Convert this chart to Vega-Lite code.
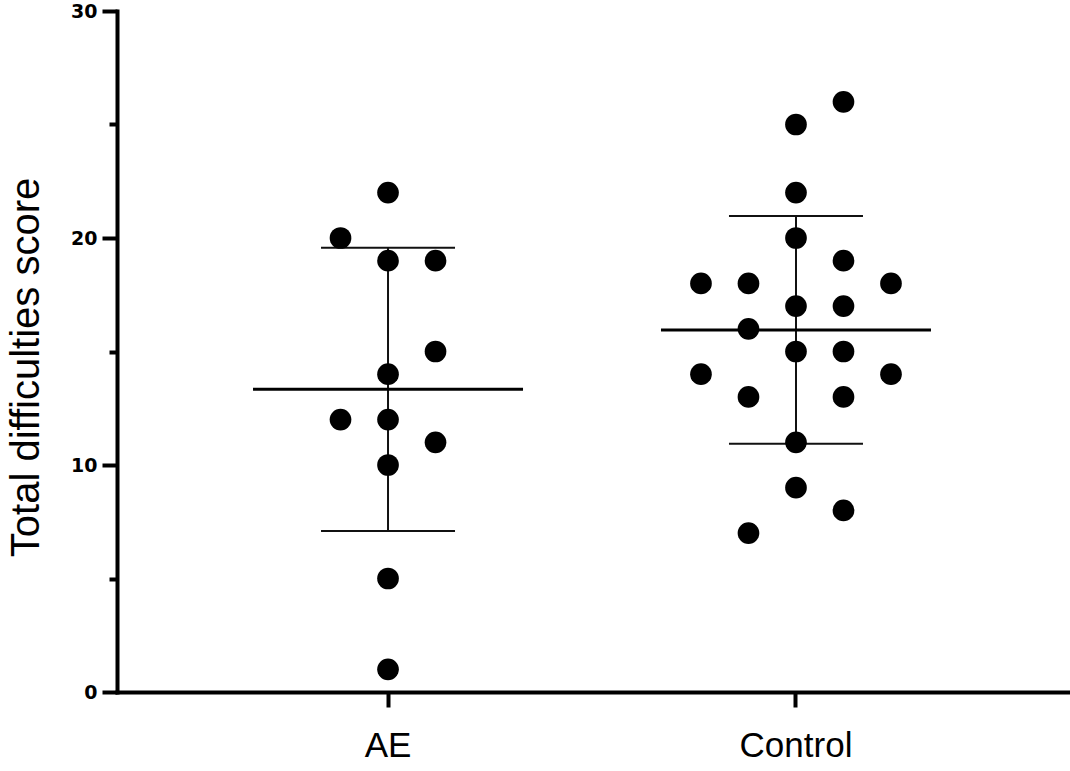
{
  "$schema": "https://vega.github.io/schema/vega-lite/v6.json",
  "width": 953,
  "height": 681,
  "autosize": {"type": "none"},
  "padding": {"left": 117, "top": 11, "right": 0, "bottom": 79},
  "background": "white",
  "config": {
    "view": {"stroke": null},
    "font": "Liberation Sans",
    "axisY": {
      "labelFont": "DejaVu Sans",
      "labelFontSize": 19,
      "labelFontWeight": "bold",
      "labelColor": "black",
      "labelPadding": 5,
      "tickWidth": 4,
      "tickColor": "black",
      "domainWidth": 4,
      "domainColor": "black",
      "domainCap": "square",
      "grid": false,
      "titleFont": "Liberation Sans",
      "titleFontSize": 40,
      "titleFontWeight": "normal",
      "titleColor": "black",
      "titlePadding": 24,
      "titleY": 356
    },
    "axisX": {
      "labelAngle": 0,
      "labelFont": "Liberation Sans",
      "labelFontSize": 35,
      "labelColor": "black",
      "labelPadding": 21,
      "tickSize": 15,
      "tickWidth": 4,
      "tickColor": "black",
      "domainWidth": 4,
      "domainColor": "black",
      "domainCap": "square",
      "grid": false
    }
  },
  "data": {
    "values": [
      {"group": "AE", "score": 22, "column": 0},
      {"group": "AE", "score": 20, "column": -1},
      {"group": "AE", "score": 19, "column": 0},
      {"group": "AE", "score": 19, "column": 1},
      {"group": "AE", "score": 15, "column": 1},
      {"group": "AE", "score": 14, "column": 0},
      {"group": "AE", "score": 12, "column": -1},
      {"group": "AE", "score": 12, "column": 0},
      {"group": "AE", "score": 11, "column": 1},
      {"group": "AE", "score": 10, "column": 0},
      {"group": "AE", "score": 5, "column": 0},
      {"group": "AE", "score": 1, "column": 0},
      {"group": "Control", "score": 26, "column": 1},
      {"group": "Control", "score": 25, "column": 0},
      {"group": "Control", "score": 22, "column": 0},
      {"group": "Control", "score": 20, "column": 0},
      {"group": "Control", "score": 19, "column": 1},
      {"group": "Control", "score": 18, "column": -2},
      {"group": "Control", "score": 18, "column": -1},
      {"group": "Control", "score": 18, "column": 2},
      {"group": "Control", "score": 17, "column": 0},
      {"group": "Control", "score": 17, "column": 1},
      {"group": "Control", "score": 16, "column": -1},
      {"group": "Control", "score": 15, "column": 0},
      {"group": "Control", "score": 15, "column": 1},
      {"group": "Control", "score": 14, "column": -2},
      {"group": "Control", "score": 14, "column": 2},
      {"group": "Control", "score": 13, "column": -1},
      {"group": "Control", "score": 13, "column": 1},
      {"group": "Control", "score": 11, "column": 0},
      {"group": "Control", "score": 9, "column": 0},
      {"group": "Control", "score": 8, "column": 1},
      {"group": "Control", "score": 7, "column": -1}
    ]
  },
  "encoding": {
    "x": {
      "field": "group",
      "type": "nominal",
      "sort": ["AE", "Control"],
      "scale": {"type": "band", "paddingInner": 0.5, "paddingOuter": 0.418, "align": 0.4956},
      "axis": {"title": null}
    },
    "y": {
      "field": "score",
      "type": "quantitative",
      "title": "Total difficulties score",
      "scale": {"domain": [0, 30], "nice": false},
      "axis": {
        "values": [0, 5, 10, 15, 20, 25, 30],
        "labelExpr": "datum.value % 10 === 0 ? datum.label : ''",
        "tickSize": {"condition": {"test": "datum.value % 10 === 0", "value": 15}, "value": 8}
      }
    }
  },
  "layer": [
    {
      "mark": {
        "type": "errorbar",
        "extent": "stdev",
        "color": "#111111",
        "rule": {"strokeWidth": 2, "opacity": 1},
        "ticks": {"size": 134, "thickness": 2, "color": "#111111", "opacity": 1}
      }
    },
    {
      "mark": {"type": "tick", "color": "black", "size": 270, "thickness": 3, "opacity": 1},
      "encoding": {
        "y": {
          "aggregate": "mean",
          "field": "score",
          "type": "quantitative",
          "title": "Total difficulties score",
          "scale": {"domain": [0, 30], "nice": false},
          "axis": {
            "values": [0, 5, 10, 15, 20, 25, 30],
            "labelExpr": "datum.value % 10 === 0 ? datum.label : ''",
            "tickSize": {"condition": {"test": "datum.value % 10 === 0", "value": 15}, "value": 8}
          }
        }
      }
    },
    {
      "mark": {"type": "point", "filled": true, "shape": "circle", "color": "black", "opacity": 1, "size": 470},
      "encoding": {
        "xOffset": {
          "field": "column",
          "type": "ordinal",
          "scale": {"type": "point", "domain": [-2, -1, 0, 1, 2], "padding": 0.147}
        }
      }
    }
  ]
}
